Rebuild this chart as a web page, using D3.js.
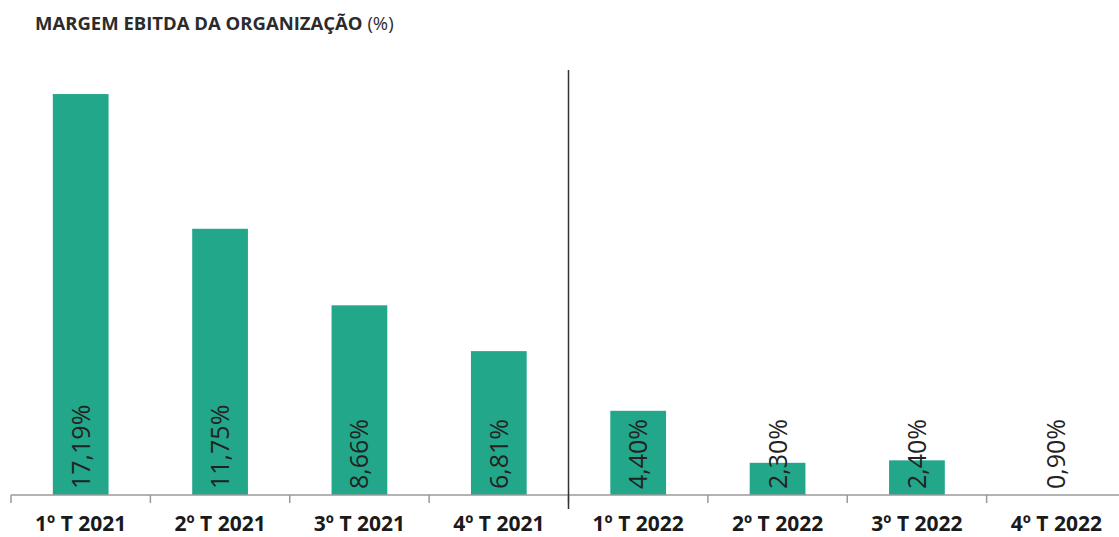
<!DOCTYPE html>
<html>
<head>
<meta charset="utf-8">
<title>Margem EBITDA da Organização</title>
<style>
  body { margin: 0; background: #fff; }
  svg { display: block; font-family: "Open Sans", sans-serif; }
  .title { font-size: 18.5px; font-weight: 700; fill: #2b2b2b; }
  .title .unit { font-weight: 400; }
  .cat { font-size: 21px; font-weight: 700; fill: #1a1a1a; }
  .val { font-size: 25px; fill: #222; }
  .axis path, .axis line { stroke: #9a9a9a; stroke-width: 1.5; }
  .sep { stroke: #333; stroke-width: 1.5; }
</style>
</head>
<body>
<div id="chart"></div>
<script src="https://cdnjs.cloudflare.com/ajax/libs/d3/7.8.5/d3.min.js"></script>
<script>
var quarters = ["1º T 2021", "2º T 2021", "3º T 2021", "4º T 2021",
                "1º T 2022", "2º T 2022", "3º T 2022", "4º T 2022"];
var margins = [17.19, 11.75, 8.66, 6.81, 4.40, 2.30, 2.40, 0.90];
var labels = ["17,19%", "11,75%", "8,66%", "6,81%", "4,40%", "2,30%", "2,40%", "0,90%"];
var yDomain = [1, 18];

var width = 1119, height = 537;
var baseY = 495;

var svg = d3.select("#chart").append("svg")
  .attr("width", width)
  .attr("height", height);

var x = d3.scaleBand().domain(quarters).range([11, 1126])
  .paddingInner(0.6).paddingOuter(0.3);
var y = d3.scaleLinear().domain(yDomain).range([baseY, 74]).clamp(true);

svg.append("text")
  .attr("class", "title")
  .attr("x", 35)
  .attr("y", 30)
  .text("MARGEM EBITDA DA ORGANIZAÇÃO ")
  .append("tspan").attr("class", "unit").text("(%)");

// bars
svg.selectAll(".bar")
  .data(margins)
  .enter().append("rect")
  .attr("class", "bar")
  .attr("fill", "#23a78a")
  .attr("x", function(d, i) { return x(quarters[i]); })
  .attr("width", x.bandwidth())
  .attr("y", function(d) { return y(d); })
  .attr("height", function(d) { return baseY - y(d); });

// axis line with ticks at the band boundaries
var step = x.step();
var bounds = quarters.map(function(q) { return x(q) - step * 0.3; });
var ax = svg.append("g").attr("class", "axis");
ax.append("path").attr("d", "M" + bounds[0] + "," + baseY + "H" + width).attr("fill", "none");
ax.selectAll("line").data(bounds).enter().append("line")
  .attr("x1", function(d) { return d; })
  .attr("x2", function(d) { return d; })
  .attr("y1", baseY)
  .attr("y2", baseY + 8);

// separator between the years
svg.append("line")
  .attr("class", "sep")
  .attr("x1", bounds[4]).attr("x2", bounds[4])
  .attr("y1", 70).attr("y2", 509);

// category labels
svg.selectAll(".cat")
  .data(quarters)
  .enter().append("text")
  .attr("class", "cat")
  .attr("text-anchor", "middle")
  .attr("x", function(d) { return x(d) + x.bandwidth() / 2; })
  .attr("y", 531)
  .text(function(d) { return d; });

// value labels, rotated, reading upward from the base
svg.selectAll(".val")
  .data(labels)
  .enter().append("text")
  .attr("class", "val")
  .attr("text-anchor", "start")
  .attr("dy", "0.36em")
  .attr("transform", function(d, i) {
    return "translate(" + (x(quarters[i]) + x.bandwidth() / 2) + "," + (baseY - 6) + ") rotate(-90)";
  })
  .text(function(d) { return d; });
</script>
</body>
</html>
